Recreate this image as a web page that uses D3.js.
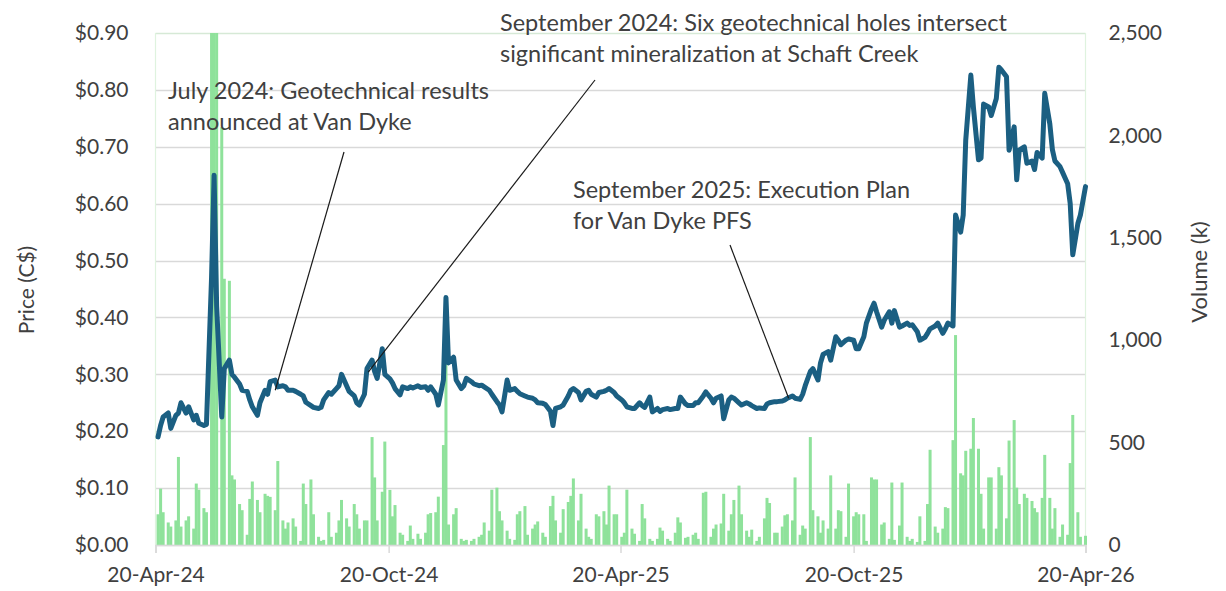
<!DOCTYPE html>
<html>
<head>
<meta charset="utf-8">
<script src="https://cdn.jsdelivr.net/npm/d3@7"></script>
<style>
  html, body { margin: 0; padding: 0; background: #ffffff; }
  svg { display: block; font-family: Lato, "Open Sans", sans-serif; }
</style>
</head>
<body>
<svg id="chart" width="1226" height="591"></svg>
<script>
// ---------------- DATA ----------------
// Sample dates: every second trading day (weekday) from 22-Apr-2024 to 20-Apr-2026
const sampleStart = "2024-04-22";
const sampleCount = 261;

// Closing price (C$) for each sample date
const price = [
  0.19,0.21,0.225,0.232,0.205,0.228,0.232,0.25,0.232,0.243,
  0.22,0.228,0.214,0.21,0.212,0.47,0.65,0.42,0.225,0.31,
  0.325,0.30,0.295,0.283,0.272,0.27,0.255,0.243,0.228,0.25,
  0.272,0.265,0.287,0.29,0.278,0.28,0.278,0.272,0.272,0.27,
  0.265,0.262,0.251,0.245,0.242,0.24,0.242,0.255,0.268,0.265,
  0.275,0.28,0.30,0.28,0.27,0.262,0.25,0.246,0.265,0.31,
  0.325,0.305,0.293,0.345,0.30,0.292,0.285,0.275,0.264,0.278,
  0.275,0.278,0.276,0.28,0.277,0.278,0.272,0.278,0.265,0.246,
  0.29,0.435,0.32,0.33,0.29,0.275,0.28,0.293,0.287,0.283,
  0.28,0.281,0.278,0.272,0.265,0.252,0.246,0.234,0.29,0.272,
  0.275,0.27,0.266,0.262,0.26,0.258,0.255,0.25,0.249,0.247,
  0.235,0.21,0.24,0.243,0.246,0.262,0.272,0.275,0.268,0.255,
  0.27,0.272,0.265,0.26,0.268,0.27,0.272,0.275,0.268,0.262,
  0.255,0.25,0.243,0.24,0.24,0.25,0.245,0.242,0.26,0.234,
  0.24,0.235,0.238,0.24,0.238,0.24,0.24,0.26,0.248,0.245,
  0.245,0.25,0.25,0.262,0.269,0.258,0.25,0.258,0.262,0.222,
  0.255,0.26,0.258,0.25,0.246,0.25,0.248,0.245,0.24,0.241,
  0.24,0.248,0.25,0.252,0.252,0.253,0.255,0.258,0.262,0.258,
  0.256,0.265,0.28,0.305,0.31,0.29,0.32,0.335,0.34,0.325,
  0.366,0.36,0.352,0.36,0.362,0.36,0.345,0.345,0.366,0.39,
  0.415,0.425,0.41,0.383,0.395,0.41,0.39,0.412,0.383,0.385,
  0.39,0.386,0.387,0.375,0.36,0.365,0.372,0.38,0.385,0.39,
  0.372,0.38,0.39,0.385,0.58,0.55,0.58,0.712,0.826,0.77,
  0.677,0.68,0.775,0.77,0.755,0.785,0.84,0.835,0.823,0.694,
  0.735,0.642,0.694,0.70,0.671,0.675,0.66,0.69,0.68,0.794,
  0.74,0.695,0.675,0.665,0.655,0.635,0.60,0.51,0.565,0.58,
  0.63
];

// Volume (thousands of shares) for each sample date
const volume = [
  150,275,160,110,90,120,430,90,120,140,
  80,300,270,180,160,2700,2700,2600,2040,1300,
  1290,340,320,200,170,50,225,310,220,160,
  250,240,235,170,410,120,80,110,130,90,
  20,300,200,320,150,40,20,25,160,40,
  60,120,220,130,90,200,150,80,120,120,
  527,330,120,260,505,269,140,195,60,50,
  20,95,30,55,30,60,150,156,160,236,
  488,1000,100,150,180,30,20,25,20,30,
  40,50,110,70,270,280,165,120,70,30,
  25,150,165,190,50,80,100,115,60,40,
  190,240,120,60,175,210,240,325,120,250,
  80,40,30,150,140,165,100,290,150,150,
  40,60,270,80,55,20,200,130,30,20,
  30,85,70,30,20,60,135,110,35,40,
  50,60,30,255,260,40,80,100,105,250,
  70,150,220,290,150,70,40,75,20,40,
  130,230,205,60,60,90,145,150,120,330,
  50,95,80,527,170,140,60,120,80,340,
  80,170,165,40,300,140,160,150,150,20,
  330,320,320,100,110,30,305,25,95,305,
  40,20,30,15,140,20,200,465,90,60,
  80,185,180,512,1025,350,340,460,470,620,
  470,250,80,330,330,80,380,340,130,510,
  610,280,200,250,230,215,180,160,230,440,
  230,80,180,40,100,50,400,635,160,40,
  45
];

const priceTicks = [0, 0.1, 0.2, 0.3, 0.4, 0.5, 0.6, 0.7, 0.8, 0.9];
const volumeTicks = [0, 500, 1000, 1500, 2000, 2500];
const dateTicks = ["2024-04-20", "2024-10-20", "2025-04-20", "2025-10-20", "2026-04-20"];

const annotations = [
  { lines: ["July 2024: Geotechnical results", "announced at Van Dyke"],
    date: "2024-07-23", value: 0.272 },
  { lines: ["September 2024: Six geotechnical holes intersect", "significant mineralization at Schaft Creek"],
    date: "2024-10-04", value: 0.304 },
  { lines: ["September 2025: Execution Plan", "for Van Dyke PFS"],
    date: "2025-08-30", value: 0.258 }
];

// ---------------- LAYOUT / STYLE ----------------
const plot = { left: 155.5, right: 1085.5, top: 33, bottom: 545 };
const annotLayout = [
  { tx: 168, ty: 99, lx: 344, ly: 152 },
  { tx: 500, ty: 31, lx: 595, ly: 80 },
  { tx: 573, ty: 198, lx: 730, ly: 245 }
];
const textColor = "#404040";
const lineColor = "#1b5f82";
const barColor = "#8fe29b";
const gridColor = "#d9d9d9";
const fontSize = 21;
const annotFontSize = 23.5;

const parse = d3.timeParse("%Y-%m-%d");

function tradingDates(startStr, n) {
  const out = [];
  const d = parse(startStr);
  let k = 0;
  while (out.length < n) {
    const wd = d.getDay();
    if (wd !== 0 && wd !== 6) {
      if (k % 2 === 0) out.push(new Date(d));
      k++;
    }
    d.setDate(d.getDate() + 1);
  }
  return out;
}
const dates = tradingDates(sampleStart, sampleCount);
const rows = dates.map((d, i) => ({ date: d, price: price[i], volume: volume[i] }));

const svg = d3.select("#chart");

const x = d3.scaleTime()
  .domain([parse(dateTicks[0]), parse(dateTicks[dateTicks.length - 1])])
  .range([plot.left, plot.right]);
const yP = d3.scaleLinear().domain([0, 0.9]).range([plot.bottom, plot.top]);
const yV = d3.scaleLinear().domain([0, 2500]).range([plot.bottom, plot.top]);

svg.append("defs").append("clipPath").attr("id", "plotclip")
  .append("rect")
  .attr("x", plot.left - 3).attr("y", plot.top)
  .attr("width", plot.right - plot.left + 6).attr("height", plot.bottom - plot.top);

// gridlines
svg.append("g")
  .selectAll("line")
  .data(priceTicks)
  .join("line")
  .attr("x1", plot.left).attr("x2", plot.right)
  .attr("y1", d => Math.round(yP(d)) + 0.5).attr("y2", d => Math.round(yP(d)) + 0.5)
  .attr("stroke", (d, i) => i === priceTicks.length - 1 ? "#d6e9d6" : gridColor)
  .attr("stroke-width", 1.5);

// side borders (light green)
svg.append("g").selectAll("line")
  .data([plot.left, plot.right])
  .join("line")
  .attr("x1", d => d).attr("x2", d => d)
  .attr("y1", plot.top).attr("y2", plot.bottom)
  .attr("stroke", "#dff3df").attr("stroke-width", 1.2);

// volume bars
const barW = 3;
svg.append("g").attr("clip-path", "url(#plotclip)")
  .selectAll("rect")
  .data(rows)
  .join("rect")
  .attr("x", d => x(d.date) - barW / 2)
  .attr("width", barW)
  .attr("y", d => yV(d.volume))
  .attr("height", d => plot.bottom - yV(d.volume))
  .attr("fill", barColor);

// x axis
const xAxis = d3.axisBottom(x)
  .tickValues(dateTicks.map(parse))
  .tickFormat(d3.timeFormat("%d-%b-%y"))
  .tickSize(8)
  .tickPadding(14);
const gx = svg.append("g")
  .attr("transform", `translate(0,${plot.bottom})`)
  .call(xAxis);
gx.select(".domain").attr("stroke", gridColor).attr("stroke-width", 1.5);
gx.selectAll(".tick line").attr("stroke", gridColor).attr("stroke-width", 1.5);
gx.selectAll(".tick text")
  .attr("fill", textColor)
  .style("font-size", fontSize + "px")
  .style("font-family", "Lato, sans-serif");

// price line
const line = d3.line()
  .x(d => x(d.date))
  .y(d => yP(d.price));
svg.append("path")
  .datum(rows)
  .attr("d", line)
  .attr("fill", "none")
  .attr("stroke", lineColor)
  .attr("stroke-width", 5)
  .attr("stroke-linejoin", "round")
  .attr("stroke-linecap", "round");

// left axis
const yAxisL = d3.axisLeft(yP)
  .tickValues(priceTicks)
  .tickFormat(d3.format("$.2f"))
  .tickSize(0)
  .tickPadding(27);
const gl = svg.append("g")
  .attr("transform", `translate(${plot.left},0)`)
  .call(yAxisL);
gl.select(".domain").remove();
gl.selectAll(".tick text")
  .attr("fill", textColor)
  .style("font-size", fontSize + "px")
  .style("font-family", "Lato, sans-serif");

// right axis
const yAxisR = d3.axisRight(yV)
  .tickValues(volumeTicks)
  .tickFormat(d3.format(","))
  .tickSize(0)
  .tickPadding(23);
const gr = svg.append("g")
  .attr("transform", `translate(${plot.right},0)`)
  .call(yAxisR);
gr.select(".domain").remove();
gr.selectAll(".tick text")
  .attr("fill", textColor)
  .style("font-size", fontSize + "px")
  .style("font-family", "Lato, sans-serif");

// axis titles
svg.append("text")
  .attr("transform", `translate(34,290) rotate(-90)`)
  .attr("text-anchor", "middle")
  .attr("fill", textColor)
  .style("font-size", fontSize + "px")
  .text("Price (C$)");
svg.append("text")
  .attr("transform", `translate(1207,272) rotate(-90)`)
  .attr("text-anchor", "middle")
  .attr("fill", textColor)
  .style("font-size", "22px")
  .text("Volume (k)");

// annotations
const ga = svg.append("g");
annotations.forEach((a, i) => {
  const L = annotLayout[i];
  ga.append("line")
    .attr("x1", L.lx).attr("y1", L.ly)
    .attr("x2", x(parse(a.date))).attr("y2", yP(a.value))
    .attr("stroke", "#1a1a1a").attr("stroke-width", 1.2);
  const t = ga.append("text")
    .attr("x", L.tx).attr("y", L.ty)
    .attr("fill", textColor)
    .style("font-size", annotFontSize + "px");
  a.lines.forEach((s, j) => {
    t.append("tspan").attr("x", L.tx).attr("dy", j === 0 ? 0 : 31).text(s);
  });
});
</script>
</body>
</html>
